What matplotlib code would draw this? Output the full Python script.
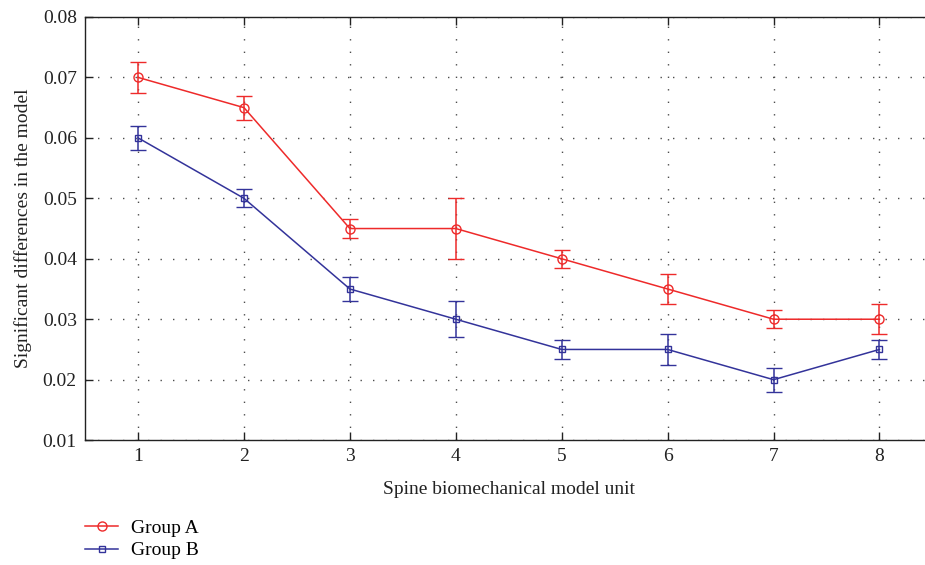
import matplotlib
matplotlib.use("Agg")
import matplotlib.pyplot as plt
from matplotlib.lines import Line2D

# Data
units = [1, 2, 3, 4, 5, 6, 7, 8]
group_a = [0.070, 0.065, 0.045, 0.045, 0.040, 0.035, 0.030, 0.030]
group_a_err = [0.0025, 0.002, 0.0015, 0.005, 0.0015, 0.0025, 0.0015, 0.0025]
group_b = [0.060, 0.050, 0.035, 0.030, 0.025, 0.025, 0.020, 0.025]
group_b_err = [0.002, 0.0015, 0.002, 0.003, 0.0015, 0.0025, 0.002, 0.0015]
y_ticks = [0.01, 0.02, 0.03, 0.04, 0.05, 0.06, 0.07, 0.08]

plt.rcParams["font.family"] = ["Liberation Serif", "DejaVu Serif"]
plt.rcParams["font.size"] = 14

fig = plt.figure(figsize=(9.25, 5.65), dpi=100)
ax = fig.add_axes([0.092, 0.221, 0.916, 0.749])

red = "#ee2a2a"
blue = "#33339a"
text_col = "#222222"

ax.errorbar(units, group_a, yerr=group_a_err, color=red, marker="o",
            markersize=6.5, markerfacecolor="none", markeredgewidth=1.0,
            linewidth=1.1, capsize=6, elinewidth=1.1, capthick=1.1)
ax.errorbar(units, group_b, yerr=group_b_err, color=blue, marker="s",
            markersize=5, markerfacecolor="none", markeredgewidth=1.0,
            linewidth=1.1, capsize=6, elinewidth=1.1, capthick=1.1)

ax.set_xlim(0.5, 8.5)
ax.set_ylim(0.01, 0.08)
ax.set_xticks(units)
ax.set_yticks(y_ticks)
ax.set_yticklabels([f"{v:.2f}" for v in y_ticks])

ax.grid(True, linestyle=(0, (1, 8)), color="0.3", linewidth=1.0)
ax.tick_params(direction="in", top=True, length=6, width=1.0,
               colors=text_col, labelcolor=text_col, pad=6)
for s in ax.spines.values():
    s.set_linewidth(1.0)
    s.set_color(text_col)

ax.set_xlabel("Spine biomechanical model unit", color=text_col, labelpad=11)
ax.set_ylabel("Significant differences in the model", color=text_col, labelpad=8)

handles = [
    Line2D([], [], color=red, marker="o", markersize=6.5,
           markerfacecolor="none", linewidth=1.1, label="Group A"),
    Line2D([], [], color=blue, marker="s", markersize=5,
           markerfacecolor="none", linewidth=1.1, label="Group B"),
]
fig.legend(handles=handles, loc="upper left", bbox_to_anchor=(0.092, 0.081),
           frameon=False, borderpad=0, borderaxespad=0,
           handlelength=1.7, handletextpad=0.65,
           labelspacing=0.25, fontsize=14)

fig.savefig("out.png", dpi=100)
